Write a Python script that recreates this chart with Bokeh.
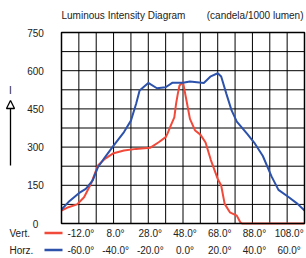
from bokeh.plotting import figure
from bokeh.models import Range1d, Label, Arrow, NormalHead
from bokeh.core.properties import value
from bokeh.embed import file_html
from bokeh.resources import INLINE

# ---- data ----
vert_angle = [-22, -18, -13, -9, -5, -1, 3, 8, 14, 21, 29, 34, 38, 39, 41, 43,
              44, 45, 46, 48, 50, 52, 55, 58, 61, 64, 68, 70, 72, 75, 79, 81, 82, 118]
vert_intensity = [51, 64, 75, 103, 156, 228, 254, 276, 287, 293, 297, 319, 339, 352,
                  385, 417, 470, 509, 542, 555, 483, 411, 365, 349, 318, 250, 175,
                  149, 77, 44, 31, 5, 0, 0]

horz_angle = [-70, -66, -60, -56, -52, -49, -45, -40, -34, -30, -27, -25, -20, -15,
              -10, -6, 0, 4, 12, 16, 20, 22, 25, 28, 31, 37, 41, 46, 51, 55, 61, 66, 70]
horz_intensity = [55, 84, 119, 136, 169, 221, 260, 306, 359, 404, 470, 522, 552, 531,
                  535, 553, 553, 558, 552, 578, 590, 577, 509, 444, 400, 352, 318,
                  265, 185, 132, 103, 77, 51]

y_ticks = [0, 150, 300, 450, 600, 750]
vert_ticks = [-12, 8, 28, 48, 68, 88, 108]
horz_ticks = [-60, -40, -20, 0, 20, 40, 60]
x_grid = [-60, -50, -40, -30, -20, -10, 0, 10, 20, 30, 40, 50, 60]
y_grid = [75, 150, 225, 300, 375, 450, 525, 600, 675]

horz_min, horz_max = -70, 70
vert_min, vert_max = -22, 118
y_min, y_max = 0, 750

title_left = "Luminous Intensity Diagram"
title_right = "(candela/1000 lumen)"

# ---- layout (canvas pixels, from top-left) ----
W, H = 306, 258
L, R, T, B = 61, 304, 32, 223

RED = "#f24a3a"
BLUE = "#2c52ac"
TXT = "#222222"
FONT = "Liberation Sans"

sx_h = (R - L) / (horz_max - horz_min)
sx_v = (R - L) / (vert_max - vert_min)
sy = (B - T) / (y_max - y_min)

x_range = Range1d(horz_min - L / sx_h, horz_max + (W - R) / sx_h)
vert_range = Range1d(vert_min - L / sx_v, vert_max + (W - R) / sx_v)
y_range = Range1d(y_min - (H - B) / sy, y_max + T / sy)


def xh_px(px):
    return horz_min + (px - L) / sx_h


def y_px(py):
    return y_min + (B - py) / sy


p = figure(frame_width=W, frame_height=H, x_range=x_range, y_range=y_range,
           x_axis_location=None, y_axis_location=None,
           output_backend="svg", toolbar_location=None,
           min_border=0)
p.min_border_left = p.min_border_right = p.min_border_top = p.min_border_bottom = 0
p.extra_x_ranges = {"vert": vert_range}
p.background_fill_color = "white"
p.border_fill_color = "white"
p.outline_line_color = None
p.grid.visible = False

# grid
p.segment(x0=x_grid, y0=[y_min] * len(x_grid), x1=x_grid, y1=[y_max] * len(x_grid),
          line_color="black", line_width=1)
p.segment(x0=[horz_min] * len(y_grid), y0=y_grid, x1=[horz_max] * len(y_grid), y1=y_grid,
          line_color="black", line_width=1)

# curves
p.line(vert_angle, vert_intensity, x_range_name="vert", line_color=RED, line_width=2)
p.line(horz_angle, horz_intensity, line_color=BLUE, line_width=2)

# plot outline
p.quad(left=[horz_min], right=[horz_max], bottom=[y_min], top=[y_max],
       fill_color=None, line_color="black", line_width=1.5)

txt_kw = dict(text_font=value(FONT), text_font_size=value("10px"), text_color=TXT)

# y tick labels
p.text(x=[xh_px(35)] * len(y_ticks), y=y_ticks, text=[str(v) for v in y_ticks],
       text_align="center", text_baseline="middle", **txt_kw)

# x tick labels (two scales)
p.text(x=vert_ticks, y=[y_px(233)] * len(vert_ticks),
       text=[f"{t:.1f}°" for t in vert_ticks], x_range_name="vert",
       text_align="center", text_baseline="middle", x_offset=2, **txt_kw)
p.text(x=horz_ticks, y=[y_px(250)] * len(horz_ticks),
       text=[f"{t:.1f}°" for t in horz_ticks],
       text_align="center", text_baseline="middle", x_offset=2, **txt_kw)

lab_kw = dict(x_units="screen", y_units="screen", text_font=FONT,
              text_font_size="10px", text_color=TXT, text_baseline="middle")

p.add_layout(Label(x=L, y=H - 15, text=title_left, text_align="left", **lab_kw))
p.add_layout(Label(x=R - 1, y=H - 15, text=title_right, text_align="right", **lab_kw))

# intensity arrow
p.add_layout(Arrow(x_start=10, y_start=H - 165, x_end=10, y_end=H - 100,
                   start_units="screen", end_units="screen",
                   line_color="black", line_width=1.3,
                   end=NormalHead(size=8, line_color="black", line_width=1.3,
                                  fill_color="white")))
p.add_layout(Label(x=10, y=H - 90, text="I", text_align="center", **lab_kw))

# series keys
for name, col, py in (("Vert.", RED, 233), ("Horz.", BLUE, 250)):
    p.add_layout(Label(x=9, y=H - py, text=name, text_align="left", **lab_kw))
    p.add_layout(Arrow(x_start=44, y_start=H - py + 0.5, x_end=62, y_end=H - py + 0.5,
                       start_units="screen", end_units="screen", start=None, end=None,
                       line_color=col, line_width=2.5))

open("out.html", "w").write(file_html(p, INLINE))
